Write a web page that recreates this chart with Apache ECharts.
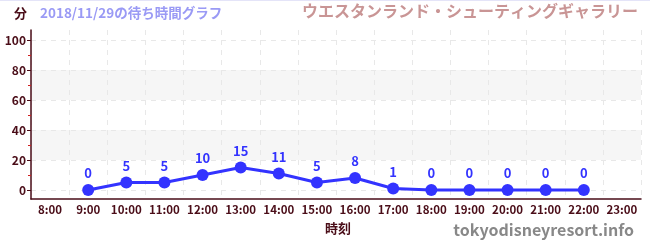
<!DOCTYPE html>
<html><head><meta charset="utf-8">
<script src="https://cdn.jsdelivr.net/npm/echarts@6/dist/echarts.min.js"></script>
<style>html,body{margin:0;padding:0;background:#fff}#c{width:650px;height:250px}</style>
</head><body><div id="c"></div>
<script>
const categories = ['8:00','9:00','10:00','11:00','12:00','13:00','14:00','15:00','16:00','17:00','18:00','19:00','20:00','21:00','22:00','23:00'];
const waitTimes = [null,0,5,5,10,15,11,5,8,1,0,0,0,0,0,null];
const yTicks = [0,20,40,60,80,100];
const yMinorTicks = [10,30,50,70,90];
const titleUnit = '分';
const titleDate = '2018/11/29の待ち時間グラフ';
const titleAttraction = 'ウエスタンランド・シューティングギャラリー';
const xName = '時刻';
const credit = 'tokyodisneyresort.info';

const dark = '#4a0d18';
const font = '"Noto Sans CJK JP", "Noto Sans", sans-serif';
const chart = echarts.init(document.getElementById('c'), null, {renderer:'canvas'});
chart.setOption({
  animation:false,
  textStyle:{fontFamily:font},
  graphic:[
    {type:'rect', shape:{x:0,y:0,width:650,height:1}, style:{fill:'#e4e4f8'}},
    {type:'text', left:14, top:7, style:{text:titleUnit, font:'bold 13px '+font, fill:dark}},
    {type:'text', left:40, top:6, style:{text:titleDate, font:'bold 13.5px '+font, fill:'#9a9af5'}},
    {type:'text', right:12, top:3, style:{text:titleAttraction, font:'bold 16px '+font, fill:'#c99595'}},
    {type:'text', left:325, top:222, style:{text:xName, font:'bold 13px '+font, fill:dark}},
    {type:'text', right:16, top:222, style:{text:credit, font:'bold 16px '+font, fill:'#888888'}}
  ],
  grid:{left:31, right:9, top:30, bottom:51},
  xAxis:{
    type:'category', data:categories, boundaryGap:true,
    axisLine:{onZero:false, lineStyle:{color:dark, width:1.5}},
    axisTick:{alignWithLabel:true, length:4, lineStyle:{color:dark}},
    axisLabel:{color:dark, fontWeight:'bold', fontSize:11.5, margin:5, fontFamily:font, interval:0},
    splitLine:{show:true, interval:0, lineStyle:{color:'#e8e8e8', type:[5,5]}}
  },
  yAxis:[{
    type:'value', min:-6, max:106.7,
    axisLine:{show:true, lineStyle:{color:dark, width:1.5}},
    axisTick:{show:true, length:4, lineStyle:{color:dark}, customValues:yTicks},
    axisLabel:{color:dark, fontWeight:'bold', fontSize:12, margin:5, fontFamily:font, customValues:yTicks, showMinLabel:true, showMaxLabel:true},
    splitLine:{show:true, lineStyle:{color:'#e8e8e8', type:[5,5]}},
    splitArea:{show:true, areaStyle:{color:['rgba(255,255,255,0)','#f6f6f6']}}
  },{
    type:'value', min:-6, max:106.7, position:'left', offset:0,
    axisLine:{show:false},
    axisTick:{show:true, length:3, lineStyle:{color:'#d02020'}, customValues:yMinorTicks},
    axisLabel:{show:false, customValues:yMinorTicks},
    splitLine:{show:false}
  }],
  series:[{
    type:'line', data:waitTimes, yAxisIndex:0,
    symbol:'circle', symbolSize:12,
    lineStyle:{color:'#3333ff', width:3},
    itemStyle:{color:'#3333ff'},
    label:{show:true, position:'top', distance:4, color:'#3333ff', fontWeight:'bold', fontSize:13, fontFamily:font}
  }]
});
</script></body></html>
